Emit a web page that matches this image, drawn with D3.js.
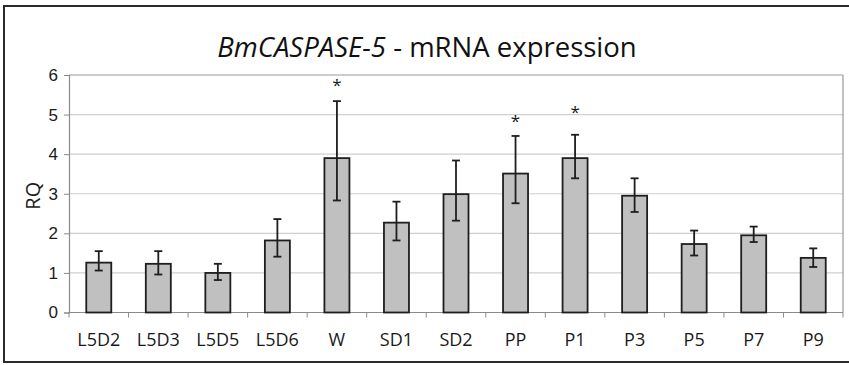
<!DOCTYPE html>
<html>
<head>
<meta charset="utf-8">
<script src="https://cdn.jsdelivr.net/npm/d3@7.9.0/dist/d3.min.js"></script>
<style>
  body { margin: 0; background: #fff; }
  svg { display: block; font-family: "Open Sans", sans-serif; }
</style>
</head>
<body>
<svg id="chart" width="849" height="365"></svg>
<script>
// === Data ===
const stages = ['L5D2', 'L5D3', 'L5D5', 'L5D6', 'W', 'SD1', 'SD2', 'PP', 'P1', 'P3', 'P5', 'P7', 'P9'];
const rq     = [1.26, 1.23, 1.00, 1.82, 3.90, 2.27, 2.99, 3.51, 3.90, 2.95, 1.73, 1.95, 1.38];
const errHi  = [1.55, 1.55, 1.23, 2.36, 5.34, 2.80, 3.84, 4.46, 4.49, 3.39, 2.07, 2.17, 1.62];
const errLo  = [1.06, 0.96, 0.82, 1.41, 2.83, 1.82, 2.32, 2.76, 3.39, 2.54, 1.44, 1.78, 1.15];
// significance markers: stage -> height of the asterisk (RQ units)
const starStages = ['W', 'PP', 'P1'];
const starAt     = [5.80, 4.89, 5.11];
const yTicks = [0, 1, 2, 3, 4, 5, 6];

const svg = d3.select('#chart');
const m = { left: 69, right: 843, top: 75, bottom: 312.5 };

const x = d3.scaleBand().domain(stages).range([m.left, m.right]).paddingInner(0).paddingOuter(0);
const y = d3.scaleLinear().domain([0, 6]).range([m.bottom, m.top]);
const barW = x.bandwidth() * 0.42;

// outer frame (right side runs off the picture)
svg.append('rect')
  .attr('x', 4).attr('y', 6).attr('width', 860).attr('height', 356)
  .attr('fill', 'none').attr('stroke', '#2b2b2b').attr('stroke-width', 2);

// gridlines
svg.append('g')
  .selectAll('line')
  .data(yTicks.filter(d => d > 0))
  .join('line')
  .attr('x1', m.left).attr('x2', m.right)
  .attr('y1', d => y(d)).attr('y2', d => y(d))
  .attr('stroke', d => d === 6 ? '#9a9a9a' : '#cfcfcf')
  .attr('stroke-width', 1.2);

// right edge of plot area
svg.append('line')
  .attr('x1', m.right).attr('x2', m.right)
  .attr('y1', m.top).attr('y2', m.bottom)
  .attr('stroke', '#9a9a9a').attr('stroke-width', 1.2);

// y axis
const yAxis = svg.append('g')
  .attr('transform', `translate(${m.left},0)`)
  .call(d3.axisLeft(y).tickValues(yTicks).tickSize(5).tickPadding(6).tickFormat(d3.format('d')));
yAxis.select('.domain').attr('stroke', '#8a8a8a').attr('stroke-width', 1.2);
yAxis.selectAll('.tick line').attr('stroke', '#8a8a8a');
yAxis.selectAll('text').attr('font-size', 17).attr('fill', '#1a1a1a');

// x axis: ticks at category boundaries
const xAxis = svg.append('g').attr('transform', `translate(0,${m.bottom})`);
xAxis.append('line')
  .attr('x1', m.left).attr('x2', m.right)
  .attr('stroke', '#8a8a8a').attr('stroke-width', 1.2);
xAxis.selectAll('line.tk')
  .data(stages.concat(['end']))
  .join('line')
  .attr('class', 'tk')
  .attr('x1', (d, i) => m.left + i * x.step())
  .attr('x2', (d, i) => m.left + i * x.step())
  .attr('y1', 0).attr('y2', 5)
  .attr('stroke', '#8a8a8a');
xAxis.selectAll('text')
  .data(stages)
  .join('text')
  .attr('x', d => x(d) + x.bandwidth() / 2)
  .attr('y', 33)
  .attr('text-anchor', 'middle')
  .attr('font-size', 18)
  .attr('fill', '#1a1a1a')
  .text(d => d);

// bars
svg.append('g')
  .selectAll('rect')
  .data(stages)
  .join('rect')
  .attr('x', d => x(d) + (x.bandwidth() - barW) / 2)
  .attr('width', barW)
  .attr('y', (d, i) => y(rq[i]))
  .attr('height', (d, i) => y(0) - y(rq[i]))
  .attr('fill', '#c0c0c0')
  .attr('stroke', '#1e1e1e')
  .attr('stroke-width', 1.8);

// error bars
const eb = svg.append('g').attr('stroke', '#1e1e1e').attr('stroke-width', 1.8);
stages.forEach((s, i) => {
  const cx = x(s) + x.bandwidth() / 2;
  eb.append('line').attr('x1', cx).attr('x2', cx).attr('y1', y(errHi[i])).attr('y2', y(errLo[i]));
  eb.append('line').attr('x1', cx - 4).attr('x2', cx + 4).attr('y1', y(errHi[i])).attr('y2', y(errHi[i]));
  eb.append('line').attr('x1', cx - 4).attr('x2', cx + 4).attr('y1', y(errLo[i])).attr('y2', y(errLo[i]));
});

// asterisks
svg.append('g')
  .selectAll('text')
  .data(starStages)
  .join('text')
  .attr('x', d => x(d) + x.bandwidth() / 2)
  .attr('y', (d, i) => y(starAt[i]) + 8)
  .attr('text-anchor', 'middle')
  .attr('font-size', 17)
  .attr('fill', '#1a1a1a')
  .text('*');

// y label
svg.append('text')
  .attr('transform', `translate(40,${(m.top + m.bottom) / 2 + 2}) rotate(-90)`)
  .attr('text-anchor', 'middle')
  .attr('font-size', 20)
  .attr('fill', '#1a1a1a')
  .text('RQ');

// title
const title = svg.append('text')
  .attr('x', 427)
  .attr('y', 56.5)
  .attr('text-anchor', 'middle')
  .attr('font-size', 27.5)
  .attr('fill', '#111');
title.append('tspan').attr('font-style', 'italic').text('BmCASPASE-5');
title.append('tspan').text(' - mRNA expression');
</script>
</body>
</html>
